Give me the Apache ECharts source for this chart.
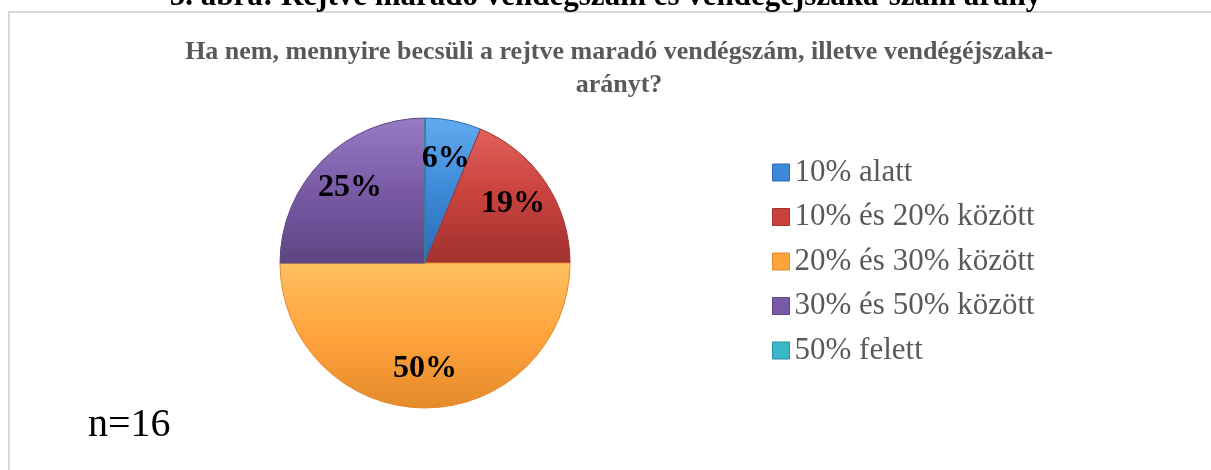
<!DOCTYPE html>
<html>
<head>
<meta charset="utf-8">
<script src="https://cdn.jsdelivr.net/npm/echarts@6/dist/echarts.min.js"></script>
<style>
html,body{margin:0;padding:0;background:#fff;}
#chart{width:1211px;height:470px;}
</style>
</head>
<body>
<div id="chart"></div>
<script>
const figureTitle = '5. ábra: Rejtve maradó vendégszám és vendégéjszaka-szám arány';
const chartTitle = 'Ha nem, mennyire becsüli a rejtve maradó vendégszám, illetve vendégéjszaka-\narányt?';
const sampleNote = 'n=16';
const categories = ['10% alatt', '10% és 20% között', '20% és 30% között', '30% és 50% között', '50% felett'];
const counts = [1, 3, 8, 4, 0];
const colorsTop = ['#62aaee', '#e2605b', '#ffc060', '#977cc2', '#6fd3e3'];
const colorsMid = ['#3d8ad8', '#c8413d', '#ffa33c', '#7a5aa6', '#3ab7c9'];
const colorsBot = ['#2c69b0', '#a0322f', '#e58a2c', '#5c4582', '#2a8e9e'];

const chart = echarts.init(document.getElementById('chart'));
const serif = '"Liberation Serif", "Times New Roman", serif';

function grad(i) {
  return new echarts.graphic.LinearGradient(0, 0, 0, 1, [
    {offset: 0, color: colorsTop[i]},
    {offset: 0.5, color: colorsMid[i]},
    {offset: 1, color: colorsBot[i]}
  ]);
}

const mainData = categories.map((c, i) => ({
  name: c, value: counts[i],
  itemStyle: {color: grad(i), borderColor: colorsBot[i], borderWidth: 1}
}));
const labelData = categories.map((c, i) => ({name: c, value: counts[i]}));

const R = 145;
const option = {
  animation: false,
  graphic: [
    {type: 'rect', shape: {x: 9, y: 12, width: 1300, height: 600},
     style: {fill: 'none', stroke: '#d9d9d9', lineWidth: 2}, silent: true},
    {type: 'text', left: 'center', top: -19,
     style: {text: figureTitle, font: 'bold 31px ' + serif, fill: '#000'}},
    {type: 'text', x: 88, y: 405,
     style: {text: sampleNote, font: '40px ' + serif, fill: '#000'}}
  ],
  title: {
    text: chartTitle,
    left: 614, textAlign: 'center', top: 31,
    textStyle: {fontFamily: serif, fontWeight: 'bold', fontSize: 26, color: '#595959', lineHeight: 33}
  },
  legend: {
    orient: 'vertical',
    left: 767, top: 152,
    itemWidth: 17, itemHeight: 17, itemGap: 13.5,
    icon: 'rect',
    data: categories.map((c, i) => ({name: c, itemStyle: {color: colorsMid[i], borderColor: colorsBot[i], borderWidth: 1}})),
    textStyle: {fontFamily: serif, fontSize: 31, color: '#595959', lineHeight: 30.5, padding: [0, 0, 0, 0]}
  },
  series: [
    {
      type: 'pie', name: 'main',
      center: [425, 263], radius: [0, R],
      startAngle: 90, clockwise: true,
      label: {show: false}, labelLine: {show: false},
      emphasis: {disabled: true},
      data: mainData
    },
    {
      type: 'pie', name: 'labels', silent: true,
      center: [425, 263], radius: [R * 0.42, R],
      startAngle: 90, clockwise: true,
      percentPrecision: 0,
      itemStyle: {color: 'rgba(0,0,0,0)'},
      labelLine: {show: false},
      label: {
        show: true, position: 'inside',
        fontFamily: serif, fontWeight: 'bold', fontSize: 32, color: '#000',
        formatter: p => p.value > 0 ? p.percent + '%' : ''
      },
      emphasis: {disabled: true},
      data: labelData
    }
  ]
};
chart.setOption(option);
</script>
</body>
</html>
